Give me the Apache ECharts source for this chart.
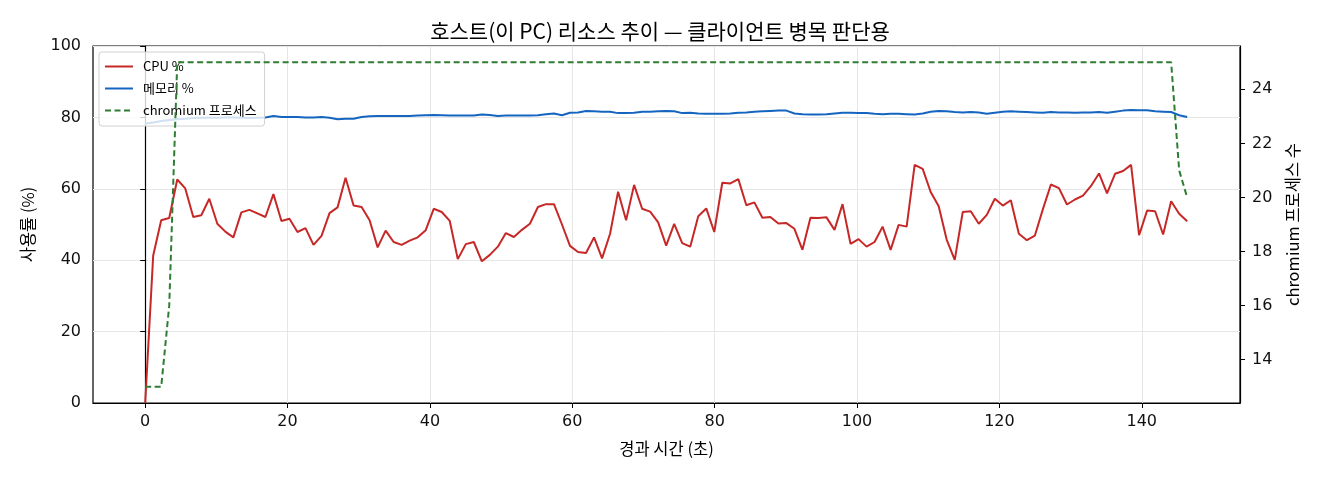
<html>
<head>
<meta charset="utf-8">
<script src="https://cdn.jsdelivr.net/npm/echarts@6/dist/echarts.min.js"></script>
<style>
	body { margin:0; background:#fff; }
	#chart { width:1320px; height:480px; }
</style>
</head>
<body>
<div id="chart"></div>
<script>
	// samples were taken about every 1.126 s
	var SAMPLE_SEC = 1.126;

	var cpu = [
		0, 41.3, 51.2, 51.8, 62.6, 60.1, 52.1, 52.6, 57.2, 50.2,
		48.0, 46.4, 53.4, 54.1, 53.1, 52.1, 58.5, 51.0, 51.6, 47.9,
		49.0, 44.3, 46.8, 53.2, 54.8, 63.1, 55.3, 54.9, 51.2, 43.6,
		48.3, 45.1, 44.3, 45.5, 46.4, 48.4, 54.4, 53.5, 51.0, 40.3,
		44.5, 45.1, 39.7, 41.5, 43.8, 47.6, 46.5, 48.5, 50.2, 54.9,
		55.7, 55.7, 50.0, 44.0, 42.3, 42.0, 46.4, 40.5, 47.4, 59.2,
		51.2, 61.1, 54.4, 53.6, 50.6, 44.1, 50.2, 44.8, 43.8, 52.3,
		54.5, 47.9, 61.7, 61.5, 62.7, 55.4, 56.2, 51.9, 52.1, 50.3,
		50.4, 48.8, 42.9, 51.9, 51.8, 52.0, 48.5, 55.7, 44.6, 45.9,
		43.8, 45.1, 49.4, 42.9, 49.9, 49.4, 66.7, 65.6, 59.1, 55.1,
		45.7, 40.1, 53.5, 53.7, 50.2, 52.7, 57.2, 55.3, 56.8, 47.4,
		45.6, 46.9, 54.3, 61.2, 60.2, 55.6, 57.0, 58.1, 60.8, 64.3,
		58.7, 64.2, 65.0, 66.7, 47.0, 53.9, 53.7, 47.2, 56.5, 53.0,
		50.9
	];

	var mem = [
		78.3, 78.6, 79.0, 79.3, 79.5, 79.6, 79.8, 79.9, 79.9, 79.9,
		80.0, 80.0, 79.9, 79.8, 79.9, 80.0, 80.4, 80.1, 80.1, 80.1,
		80.0, 80.0, 80.1, 79.9, 79.5, 79.6, 79.6, 80.1, 80.3, 80.4,
		80.4, 80.4, 80.4, 80.4, 80.5, 80.6, 80.7, 80.6, 80.5, 80.5,
		80.5, 80.5, 80.8, 80.7, 80.4, 80.5, 80.5, 80.5, 80.5, 80.6,
		80.9, 81.1, 80.6, 81.3, 81.4, 81.8, 81.7, 81.6, 81.6, 81.2,
		81.2, 81.3, 81.6, 81.6, 81.7, 81.8, 81.7, 81.2, 81.3, 81.1,
		81.0, 81.0, 81.0, 81.1, 81.3, 81.4, 81.6, 81.7, 81.8, 81.9,
		81.9, 81.1, 80.9, 80.8, 80.8, 80.9, 81.1, 81.3, 81.3, 81.2,
		81.2, 81.0, 80.9, 81.0, 81.0, 80.9, 80.8, 81.1, 81.6, 81.8,
		81.7, 81.5, 81.4, 81.5, 81.4, 81.0, 81.3, 81.6, 81.7, 81.6,
		81.5, 81.4, 81.3, 81.5, 81.4, 81.4, 81.3, 81.4, 81.4, 81.5,
		81.3, 81.6, 81.9, 82.1, 82.0, 82.0, 81.7, 81.6, 81.5, 80.6,
		80.1
	];

	var procs = [
		13, 13, 13, 16, 25, 25, 25, 25, 25, 25,
		25, 25, 25, 25, 25, 25, 25, 25, 25, 25,
		25, 25, 25, 25, 25, 25, 25, 25, 25, 25,
		25, 25, 25, 25, 25, 25, 25, 25, 25, 25,
		25, 25, 25, 25, 25, 25, 25, 25, 25, 25,
		25, 25, 25, 25, 25, 25, 25, 25, 25, 25,
		25, 25, 25, 25, 25, 25, 25, 25, 25, 25,
		25, 25, 25, 25, 25, 25, 25, 25, 25, 25,
		25, 25, 25, 25, 25, 25, 25, 25, 25, 25,
		25, 25, 25, 25, 25, 25, 25, 25, 25, 25,
		25, 25, 25, 25, 25, 25, 25, 25, 25, 25,
		25, 25, 25, 25, 25, 25, 25, 25, 25, 25,
		25, 25, 25, 25, 25, 25, 25, 25, 25, 21,
		20
	];

	var xTicks = [0, 20, 40, 60, 80, 100, 120, 140];
	var procTicks = [14, 16, 18, 20, 22, 24];

	function pairs(arr){
		var out = [];
		for (var i = 0; i < arr.length; i++) {
			out.push([+(i * SAMPLE_SEC).toFixed(3), arr[i]]);
		}
		return out;
	}

	var FONT = '"Noto Sans CJK KR", "Noto Sans", sans-serif';
	var NUMFONT = '"DejaVu Sans", "Noto Sans CJK KR", sans-serif';
	var myChart = echarts.init(document.getElementById('chart'));
	var option = {
		backgroundColor: '#fff',
		textStyle: { fontFamily: FONT, color: '#000' },
		title: {
			text: '호스트(이 PC) 리소스 추이 — 클라이언트 병목 판단용',
			left: 'center',
			top: 16,
			textStyle: { fontFamily: FONT, fontSize: 21, fontWeight: 'normal', color: '#000' }
		},
		legend: {
			orient: 'vertical',
			left: 99,
			top: 52,
			padding: [8, 8, 9, 5],
			itemGap: 9,
			itemWidth: 28,
			itemHeight: 15,
			backgroundColor: 'rgba(255,255,255,0.8)',
			borderColor: '#d0d0d0',
			borderWidth: 1,
			borderRadius: 3,
			z: 4,
			itemStyle: { opacity: 0 },
			textStyle: { fontFamily: FONT, fontSize: 13, color: '#000', padding: [0, 0, 0, 5] },
			data: ['CPU %', '메모리 %', 'chromium 프로세스']
		},
		grid: {
			left: 93, right: 80, top: 46, bottom: 77,
			show: true, borderColor: '#000', borderWidth: 1.2,
			containLabel: false
		},
		xAxis: {
			type: 'value',
			min: -7.33, max: 153.8,
			name: '경과 시간 (초)',
			nameLocation: 'middle',
			nameGap: 37,
			nameTextStyle: { fontFamily: FONT, fontSize: 16.5, color: '#000' },
			axisLine: { show: true, lineStyle: { color: '#000', width: 1.2 } },
			axisTick: { show: true, length: 5, customValues: xTicks, lineStyle: { color: '#000' } },
			axisLabel: { customValues: xTicks, margin: 11, fontSize: 16, color: '#111', fontFamily: NUMFONT },
			splitLine: { show: true, lineStyle: { color: '#e6e6e6', width: 1 } }
		},
		yAxis: [
			{
				type: 'value',
				min: 0, max: 100, interval: 20,
				name: '사용률 (%)',
				nameLocation: 'middle',
				nameRotate: 90,
				nameGap: 57,
				nameTextStyle: { fontFamily: FONT, fontSize: 16.5, color: '#000' },
				axisLine: { show: true, lineStyle: { color: '#000', width: 1.2 } },
				axisTick: { show: true, length: 5, lineStyle: { color: '#000' } },
				axisLabel: { margin: 12, fontSize: 16, color: '#111', fontFamily: NUMFONT },
				splitLine: { show: true, lineStyle: { color: '#e6e6e6', width: 1 } }
			},
			{
				type: 'value',
				position: 'right',
				min: 12.4, max: 25.6,
				name: 'chromium 프로세스 수',
				nameLocation: 'middle',
				nameRotate: 90,
				nameGap: 44,
				nameTextStyle: { fontFamily: FONT, fontSize: 16.5, color: '#000' },
				axisLine: { show: true, lineStyle: { color: '#000', width: 1.2 } },
				axisTick: { show: true, length: 5, customValues: procTicks, lineStyle: { color: '#000' } },
				axisLabel: { customValues: procTicks, margin: 12, fontSize: 16, color: '#111', fontFamily: NUMFONT },
				splitLine: { show: false }
			}
		],
		series: [
			{
				name: 'CPU %',
				type: 'line',
				yAxisIndex: 0,
				symbol: 'none',
				color: '#c62828',
				lineStyle: { width: 2, color: '#c62828' },
				z: 2,
				data: pairs(cpu)
			},
			{
				name: '메모리 %',
				type: 'line',
				yAxisIndex: 0,
				symbol: 'none',
				color: '#1565c0',
				lineStyle: { width: 2, color: '#1565c0' },
				z: 2,
				data: pairs(mem)
			},
			{
				name: 'chromium 프로세스',
				type: 'line',
				yAxisIndex: 1,
				symbol: 'none',
				color: '#2e7d32',
				lineStyle: { width: 2, color: '#2e7d32', type: [6, 3.5] },
				z: 6,
				data: pairs(procs)
			}
		]
	};
	myChart.setOption(option);
</script>
</body>
</html>
